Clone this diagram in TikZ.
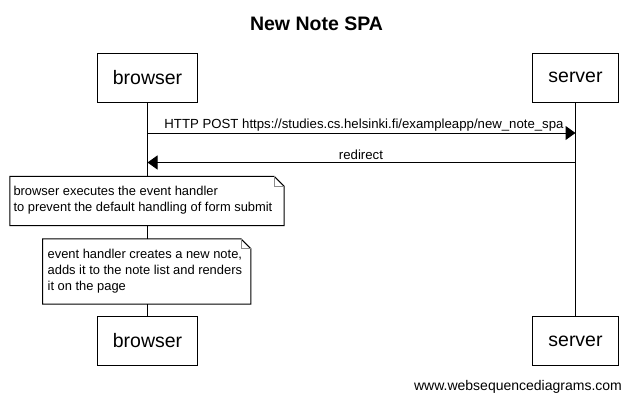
\documentclass[tikz,border=0pt]{standalone}
\usepackage{fontspec}
\setmainfont{Liberation Sans}
\usetikzlibrary{arrows.meta}
\begin{document}
\begin{tikzpicture}[x=1pt,y=-1pt,
  actor/.style={draw=black, line width=1pt, fill=white, minimum height=49pt, inner sep=0pt, font=\fontsize{19.5}{22}\selectfont},
  life/.style={draw=black, line width=1pt},
  msg/.style={draw=black, line width=1pt, -{Triangle[length=10pt,width=14pt]}},
  msglabel/.style={font=\fontsize{13.2}{16}\selectfont, anchor=base, inner sep=0pt},
  notebox/.style={fill=white, inner sep=0pt},
  notetext/.style={anchor=west, inner sep=0pt, align=left, font=\fontsize{12.9}{16}\selectfont},
  noteline/.style={draw=black, line width=1pt, line join=miter},
  fold/.style={draw=black!45, line width=0.7pt}
]
\useasboundingbox (0,0) rectangle (633,400);
\fill[white] (0,0) rectangle (633,400);

% title
\node[font=\fontsize{19.5}{22}\selectfont\bfseries] (title) at (316.5,24) {New Note SPA};

% actors
\node[actor, minimum width=100pt] (bt) at (147.5,77.5) {browser};
\node[actor, minimum width=86pt] (st) at (575.5,77.5) {server};
\node[actor, minimum width=100pt] (bb) at (147.5,341) {browser};
\node[actor, minimum width=86pt] (sb) at (575.5,341) {server};

% lifelines
\draw[life] (bt.south) -- (bb.north);
\draw[life] (st.south) -- (sb.north);

% messages
\coordinate (y1) at (0,133);
\coordinate (y2) at (0,162.5);
\draw[msg] (bt.south |- y1) -- (st.south |- y1);
\node[msglabel] (l1) at (364,128.5) {HTTP POST https://studies.cs.helsinki.fi/exampleapp/new\_note\_spa};
\draw[msg] (st.south |- y2) -- (bt.south |- y2);
\node[msglabel] (l2) at (361,159.5) {redirect};

% note 1
\node[notebox, minimum width=274pt, minimum height=49pt] (n1) at (147,201) {};
\draw[noteline] (n1.north west) -- ([xshift=-10pt]n1.north east) -- ([yshift=-10pt]n1.north east) -- (n1.south east) -- (n1.south west) -- cycle;
\draw[fold] ([xshift=-10pt]n1.north east) -- ([xshift=-10pt,yshift=-10pt]n1.north east) -- ([yshift=-10pt]n1.north east);
\node[notetext] (t1) at ([xshift=3.5pt,yshift=1pt]n1.west) {browser executes the event handler\\to prevent the default handling of form submit};

% note 2
\node[notebox, minimum width=208pt, minimum height=65pt] (n2) at (146.7,271.5) {};
\draw[noteline] (n2.north west) -- ([xshift=-10pt]n2.north east) -- ([yshift=-10pt]n2.north east) -- (n2.south east) -- (n2.south west) -- cycle;
\draw[fold] ([xshift=-10pt]n2.north east) -- ([xshift=-10pt,yshift=-10pt]n2.north east) -- ([yshift=-10pt]n2.north east);
\node[notetext] (t2) at ([xshift=5pt]n2.west) {event handler creates a new note,\\adds it to the note list and renders\\it on the page};

% watermark
\node[font=\fontsize{14}{16}\selectfont] (wm) at (518,387) {www.websequencediagrams.com};
\end{tikzpicture}
\end{document}
